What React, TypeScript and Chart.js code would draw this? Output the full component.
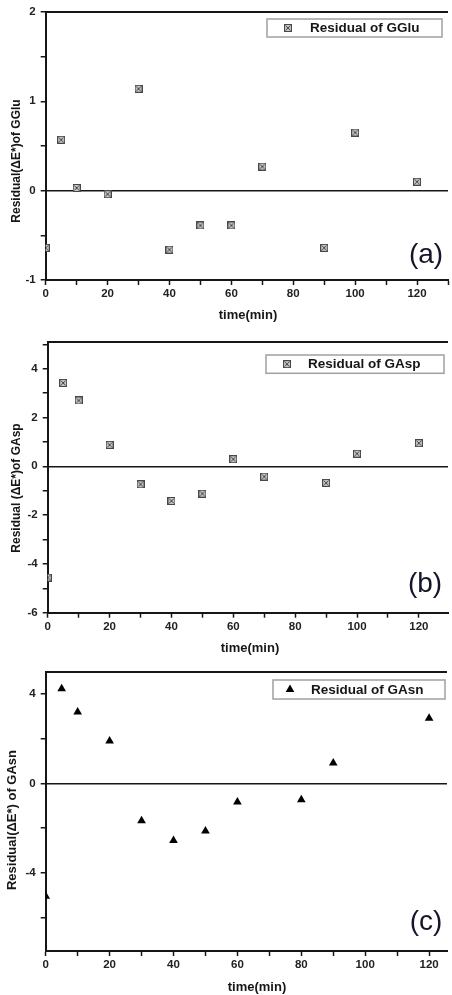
import React, { useEffect, useRef } from 'react';
import { Chart, registerables } from 'chart.js';

Chart.register(...registerables);

// ---- data ----
const timesGGlu = [0, 5, 10, 20, 30, 40, 50, 60, 70, 90, 100, 120];
const residualGGlu = [-0.64, 0.57, 0.03, -0.04, 1.14, -0.66, -0.39, -0.39, 0.27, -0.64, 0.65, 0.1];

const timesGAsp = [0, 5, 10, 20, 30, 40, 50, 60, 70, 90, 100, 120];
const residualGAsp = [-4.56, 3.42, 2.7, 0.88, -0.74, -1.42, -1.12, 0.29, -0.42, -0.68, 0.52, 0.95];

const timesGAsn = [0, 5, 10, 20, 30, 40, 50, 60, 80, 90, 120];
const residualGAsn = [-5.05, 4.24, 3.2, 1.9, -1.67, -2.55, -2.13, -0.83, -0.73, 0.92, 2.92];

const seriesLabels = ['Residual of GGlu', 'Residual of GAsp', 'Residual of GAsn'];
const yTitles = ['Residual(ΔE*)of GGlu', 'Residual (ΔE*)of GAsp', 'Residual(ΔE*) of GAsn'];
const xTitle = 'time(min)';
const panelLetters = ['(a)', '(b)', '(c)'];

const FONT = '"Liberation Sans", Arial, Helvetica, sans-serif';
const INK = '#161616';

function makeCrossSquare(): HTMLCanvasElement {
  const c = document.createElement('canvas');
  c.width = 8;
  c.height = 8;
  const g = c.getContext('2d')!;
  g.fillStyle = '#c4c4c4';
  g.fillRect(0, 0, 8, 8);
  g.strokeStyle = '#484848';
  g.lineWidth = 1;
  g.strokeRect(0.5, 0.5, 7, 7);
  g.beginPath();
  g.moveTo(1.5, 1.5);
  g.lineTo(6.5, 6.5);
  g.moveTo(6.5, 1.5);
  g.lineTo(1.5, 6.5);
  g.stroke();
  return c;
}

type PanelCfg = {
  idx: number;
  times: number[];
  values: number[];
  marker: 'square' | 'triangle';
  canvasTop: number;
  canvasH: number;
  left: number;
  top: number;
  bottom: number;
  xMax: number;
  yMin: number;
  yMax: number;
  yStep: number;
  yLabelEvery: number;
  legend: { x0: number; y0: number; x1: number; y1: number; mx: number; tx: number };
  letter: { x: number; y: number };
  yTitle: { x: number; y: number; size: number };
  xTitlePos: { x: number; y: number };
};

const panels: PanelCfg[] = [
  {
    idx: 0, times: timesGGlu, values: residualGGlu, marker: 'square',
    canvasTop: 0, canvasH: 330, left: 45.7, top: 9.3, bottom: 280, xMax: 130,
    yMin: -1, yMax: 2, yStep: 0.5, yLabelEvery: 1,
    legend: { x0: 267, y0: 19, x1: 442, y1: 37, mx: 288, tx: 310 },
    letter: { x: 426, y: 255 },
    yTitle: { x: 17, y: 161, size: 12 },
    xTitlePos: { x: 248, y: 315 },
  },
  {
    idx: 1, times: timesGAsp, values: residualGAsp, marker: 'square',
    canvasTop: 330, canvasH: 330, left: 47.7, top: 11.7, bottom: 282.7, xMax: 129.4,
    yMin: -6, yMax: 5.1, yStep: 1, yLabelEvery: 2,
    legend: { x0: 266, y0: 25, x1: 444, y1: 43.3, mx: 287, tx: 308 },
    letter: { x: 425, y: 254 },
    yTitle: { x: 17, y: 158, size: 12 },
    xTitlePos: { x: 250, y: 318 },
  },
  {
    idx: 2, times: timesGAsn, values: residualGAsn, marker: 'triangle',
    canvasTop: 660, canvasH: 335, left: 45.7, top: 9.3, bottom: 291, xMax: 125.6,
    yMin: -7.5, yMax: 5, yStep: 2, yLabelEvery: 4,
    legend: { x0: 273, y0: 20, x1: 445, y1: 39, mx: 290, tx: 311 },
    letter: { x: 426, y: 262 },
    yTitle: { x: 12, y: 160, size: 13 },
    xTitlePos: { x: 257, y: 327 },
  },
];

function drawTriangle(ctx: CanvasRenderingContext2D, x: number, y: number, r: number) {
  ctx.beginPath();
  ctx.moveTo(x, y - r);
  ctx.lineTo(x + r * 0.866, y + r / 2);
  ctx.lineTo(x - r * 0.866, y + r / 2);
  ctx.closePath();
  ctx.fill();
}

function Panel({ cfg }: { cfg: PanelCfg }) {
  const ref = useRef<HTMLCanvasElement>(null);

  useEffect(() => {
    const canvas = ref.current!;
    const squareImg = makeCrossSquare();
    const pointStyle: any = cfg.marker === 'square' ? squareImg : 'triangle';

    const decor = {
      id: 'decor' + cfg.idx,
      afterDraw(chart: any) {
        const ctx: CanvasRenderingContext2D = chart.ctx;
        const area = chart.chartArea;
        ctx.save();
        // top frame line
        ctx.strokeStyle = INK;
        ctx.lineWidth = 2;
        ctx.beginPath();
        ctx.moveTo(area.left, area.top);
        ctx.lineTo(area.right, area.top);
        ctx.stroke();

        // legend box
        const L = cfg.legend;
        ctx.fillStyle = '#ffffff';
        ctx.fillRect(L.x0, L.y0, L.x1 - L.x0, L.y1 - L.y0);
        ctx.strokeStyle = '#a0a0a0';
        ctx.lineWidth = 1.5;
        ctx.strokeRect(L.x0, L.y0, L.x1 - L.x0, L.y1 - L.y0);
        const my = (L.y0 + L.y1) / 2;
        if (cfg.marker === 'square') {
          ctx.drawImage(squareImg, L.mx - 4, my - 4);
        } else {
          ctx.fillStyle = '#000';
          drawTriangle(ctx, L.mx, my, 5);
        }
        ctx.fillStyle = INK;
        ctx.font = `bold 13.5px ${FONT}`;
        ctx.textAlign = 'left';
        ctx.textBaseline = 'middle';
        ctx.fillText(chart.data.datasets[0].label, L.tx, my + 0.5);

        // panel letter
        ctx.font = `28px ${FONT}`;
        ctx.textAlign = 'center';
        ctx.fillStyle = '#14142a';
        ctx.fillText(panelLetters[cfg.idx], cfg.letter.x, cfg.letter.y);

        // x title
        ctx.fillStyle = INK;
        ctx.font = `bold 13px ${FONT}`;
        ctx.fillText(xTitle, cfg.xTitlePos.x, cfg.xTitlePos.y);

        // y title
        ctx.translate(cfg.yTitle.x, cfg.yTitle.y);
        ctx.rotate(-Math.PI / 2);
        ctx.font = `bold ${cfg.yTitle.size}px ${FONT}`;
        ctx.fillText(yTitles[cfg.idx], 0, 0);
        ctx.restore();
      },
    };

    const chart = new Chart(canvas, {
      type: 'scatter',
      data: {
        datasets: [
          {
            label: seriesLabels[cfg.idx],
            data: cfg.times.map((t, i) => ({ x: t, y: cfg.values[i] })),
            pointStyle,
            pointRadius: cfg.marker === 'square' ? 4 : 5,
            pointHoverRadius: cfg.marker === 'square' ? 4 : 5,
            backgroundColor: '#000',
            borderColor: '#000',
            borderWidth: 0,
            clip: 0,
          } as any,
        ],
      },
      options: {
        animation: false,
        responsive: false,
        maintainAspectRatio: false,
        devicePixelRatio: 1,
        layout: { padding: { top: cfg.top, right: 0, left: 0, bottom: 0 } },
        plugins: { legend: { display: false }, tooltip: { enabled: false } },
        scales: {
          x: {
            type: 'linear',
            min: 0,
            max: cfg.xMax,
            afterFit: (scale: any) => {
              scale.height = cfg.canvasH - cfg.bottom;
            },
            border: { display: true, color: INK, width: 2 },
            grid: { drawOnChartArea: false, tickColor: INK, tickLength: 5, tickWidth: 1.5 },
            ticks: {
              stepSize: 10,
              includeBounds: false,
              autoSkip: false,
              maxRotation: 0,
              padding: 2,
              color: '#222',
              font: { family: FONT, size: 11.5, weight: 'bold' },
              callback: (v: any) => (Math.abs(Number(v) % 20) < 1e-9 ? String(v) : ''),
            },
          },
          y: {
            type: 'linear',
            min: cfg.yMin,
            max: cfg.yMax,
            afterFit: (scale: any) => {
              scale.width = cfg.left;
            },
            border: { display: true, color: INK, width: 2 },
            grid: {
              color: (c: any) => (c.tick && Math.abs(c.tick.value) < 1e-9 ? INK : 'rgba(0,0,0,0)'),
              lineWidth: 1.5,
              tickColor: INK,
              tickLength: 5,
              tickWidth: 1.5,
            },
            ticks: {
              stepSize: cfg.yStep,
              includeBounds: false,
              autoSkip: false,
              padding: 5,
              color: '#222',
              font: { family: FONT, size: 11.5, weight: 'bold' },
              callback: (v: any) =>
                Math.abs(Number(v) % cfg.yLabelEvery) < 1e-9 ? String(v) : '',
            },
          },
        },
      },
      plugins: [decor],
    } as any);

    return () => chart.destroy();
  }, [cfg]);

  return (
    <canvas
      ref={ref}
      width={452}
      height={cfg.canvasH}
      style={{ position: 'absolute', left: 0, top: cfg.canvasTop, width: 452, height: cfg.canvasH }}
    />
  );
}

export default function App() {
  return (
    <div style={{ position: 'absolute', left: 0, top: 0, width: 452, height: 995, background: '#fff' }}>
      {panels.map((p) => (
        <Panel key={p.idx} cfg={p} />
      ))}
    </div>
  );
}
